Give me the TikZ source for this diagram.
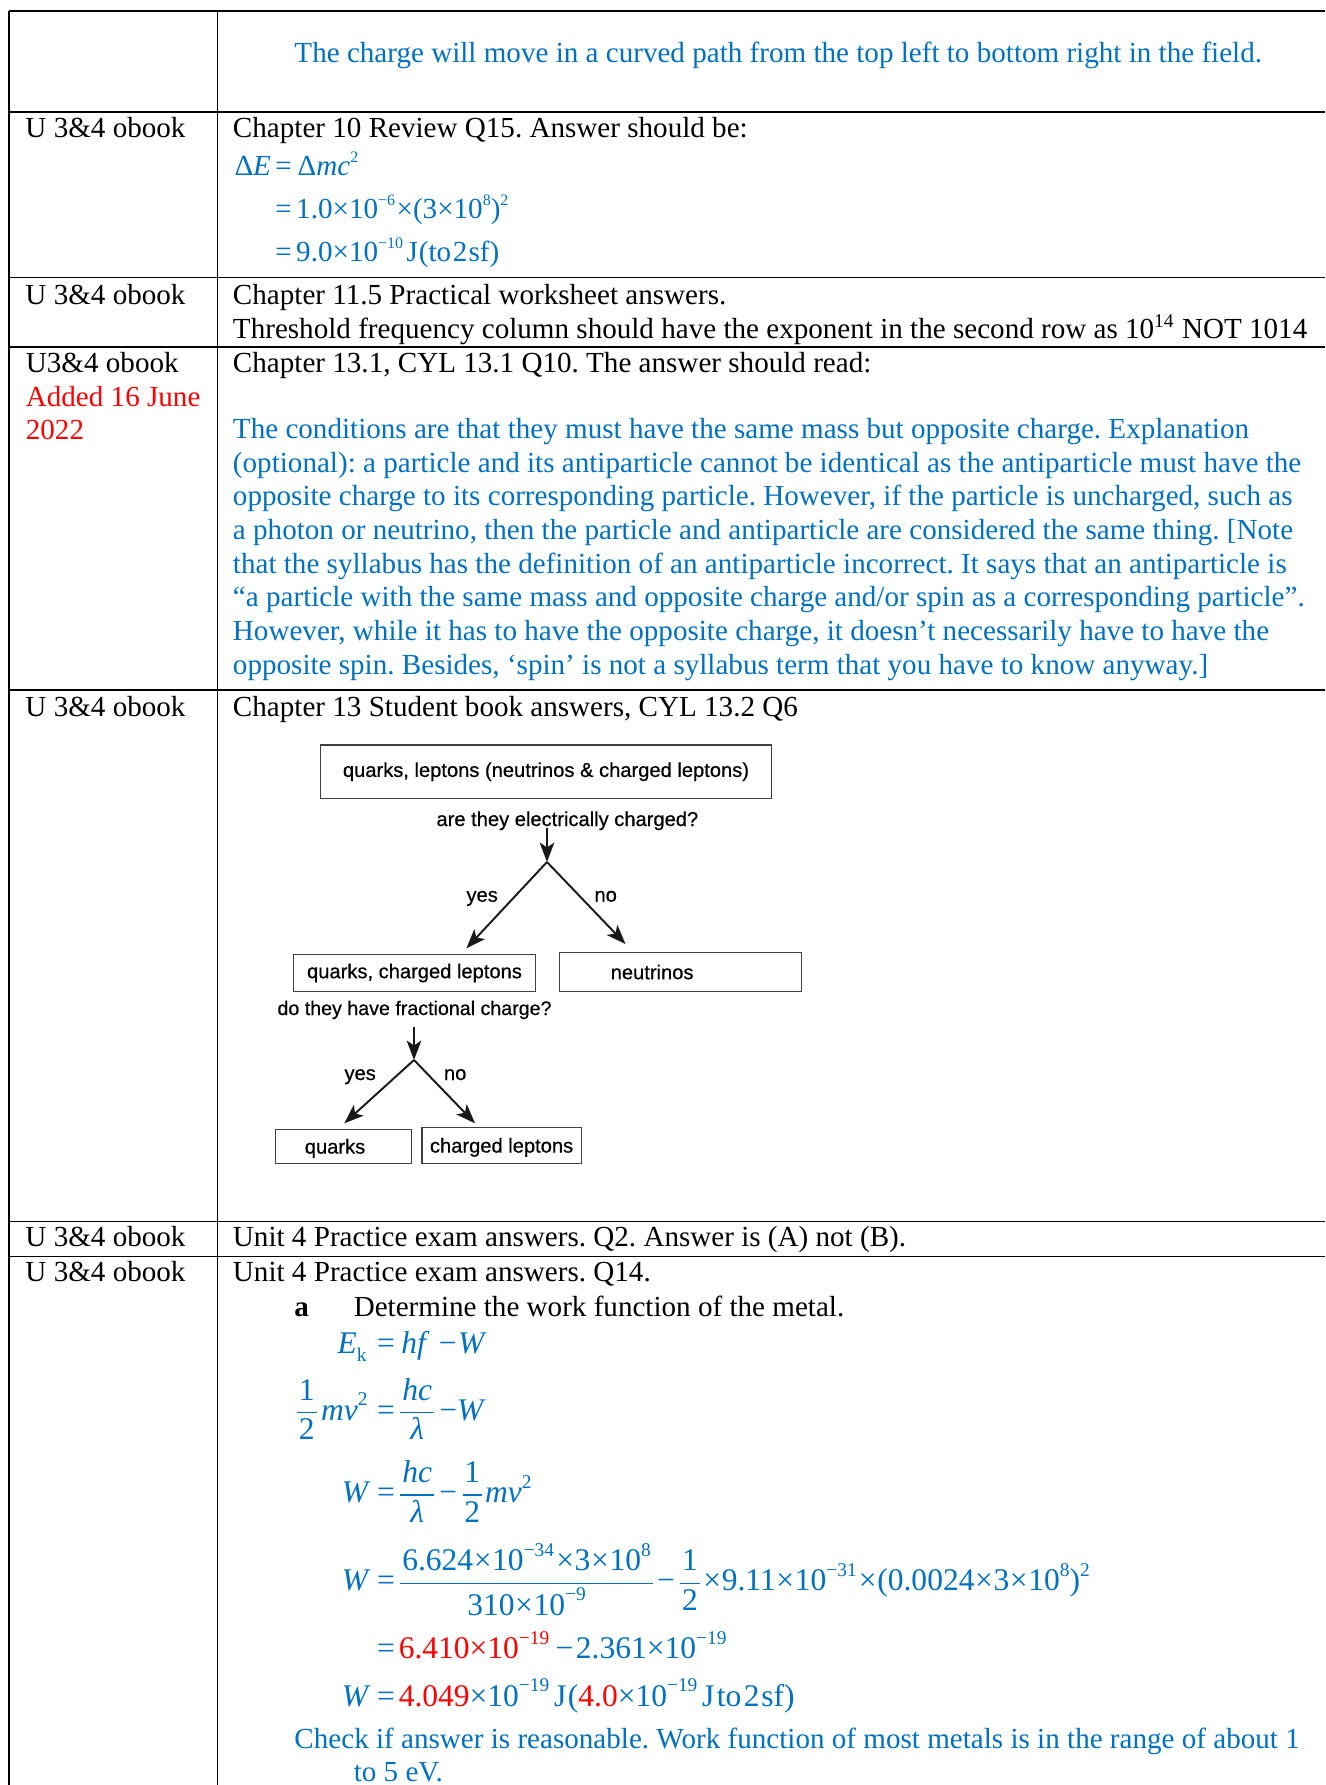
\documentclass[tikz,border=0pt]{standalone}
\usepackage{fontspec}
\setmainfont{Liberation Serif}
\newfontfamily\arialf{Liberation Sans}[FakeBold=0.5]
\usetikzlibrary{arrows.meta}
\definecolor{ansblue}{HTML}{0070C0}
\definecolor{ansred}{HTML}{FF0000}
\newcommand\sps[1]{\raisebox{0.45em}{\fontsize{6.6}{8}\selectfont #1}}
\newcommand\spb[1]{\raisebox{0.45em}{\fontsize{8}{9}\selectfont #1}}
\newcommand\sbs[1]{\raisebox{-0.25em}{\fontsize{8}{9}\selectfont #1}}
\newcommand\mfr[2]{$\displaystyle{\hbox{\hspace{0.06em}#1\hspace{0.06em}}\above 0.55pt\hbox{\hspace{0.06em}#2\hspace{0.06em}}}$}
\newcommand\tx{\hspace{0.02em}×\hspace{0.02em}}
\begin{document}
\frenchspacing
\begin{tikzpicture}[x=0.4124pt,y=-0.4124pt,
  txt/.style={inner sep=0pt, anchor=base west, font=\fontsize{12}{13.9}\selectfont},
  btxt/.style={txt, text=ansblue},
  rtxt/.style={txt, text=ansred},
  eqL/.style={inner sep=0pt, anchor=base east, text=ansblue, font=\fontsize{12}{13.9}\selectfont},
  beq/.style={inner sep=0pt, anchor=base west, text=ansblue, font=\fontsize{13}{15}\selectfont},
  beqL/.style={inner sep=0pt, anchor=base east, text=ansblue, font=\fontsize{13}{15}\selectfont},
  topline/.style={line width=0.95pt},
  hline/.style={line width=0.7pt},
  vline/.style={line width=0.55pt},
  dbox/.style={draw=black!75, line width=0.6pt, inner ysep=0pt, font=\arialf\fontsize{8.3}{10}\selectfont, text=black},
  dlab/.style={inner sep=0pt, anchor=base west, font=\arialf\fontsize{8.3}{10}\selectfont, text=black},
  arr/.style={draw=black!90, line width=0.8pt, -{Stealth[length=8pt,width=6pt,inset=2pt]}}]
\useasboundingbox (0,0) rectangle (1325,1785);
\fill[white] (0,0) rectangle (1325,1785);
% table rules
\draw[topline] (9,11) -- (1325,11);
\foreach \yy in {112,277.5,347,690,1221.5,1256.5} \draw[hline] (9,\yy) -- (1325,\yy);
\draw[vline] (9,11) -- (9,1785);
\draw[vline] (217.5,11) -- (217.5,1785);

% row 1
\node[btxt] (r1) at (294,62.7) {The charge will move in a curved path from the top left to bottom right in the field.};

% row 2
\node[txt] (l2) at (25,137.7) {U 3\&4 obook};
\node[txt] (c2) at (232.5,137.7) {Chapter 10 Review Q15. Answer should be:};
\node[eqL] (e1l) at (271.5,176) {Δ\textit{E}};
\node[btxt] (e1r) at (275,176) {=\hspace{0.2em}Δ\textit{mc}\sps{2}};
\node[btxt] (e2r) at (275,218.3) {=\hspace{0.15em}1.0×10\sps{−6}\hspace{0.05em}×(3×10\sps{8})\sps{2}};
\node[btxt] (e3r) at (275,261.7) {=\hspace{0.15em}9.0×10\sps{−10}\hspace{0.12em}J\hspace{0.03em}(to\hspace{0.06em}2\hspace{0.04em}sf)};

% row 3
\node[txt] (l3) at (25,305) {U 3\&4 obook};
\node[txt] (c3a) at (232.5,305) {Chapter 11.5 Practical worksheet answers.};
\node[txt] (c3b) at (232.5,338.3) {Threshold frequency column should have the exponent in the second row as 10\textsuperscript{14} NOT 1014};

% row 4
\node[txt] (l4a) at (25.4,372.7) {U3\&4 obook};
\node[rtxt] (l4b) at (25.4,406.7) {Added 16 June};
\node[rtxt] (l4c) at (25.4,440) {2022};
\node[txt] (c4) at (232.5,372.7) {Chapter 13.1, CYL 13.1 Q10. The answer should read:};
\node[btxt] (p1) at (232.5,438.3) {The conditions are that they must have the same mass but opposite charge. Explanation};
\node[btxt] (p2) at (232.5,472.0) {(optional): a particle and its antiparticle cannot be identical as the antiparticle must have the};
\node[btxt] (p3) at (232.5,505.7) {opposite charge to its corresponding particle. However, if the particle is uncharged, such as};
\node[btxt] (p4) at (232.5,539.4) {a photon or neutrino, then the particle and antiparticle are considered the same thing. [Note};
\node[btxt] (p5) at (232.5,573.1) {that the syllabus has the definition of an antiparticle incorrect. It says that an antiparticle is};
\node[btxt] (p6) at (232.5,606.8) {“a particle with the same mass and opposite charge and/or spin as a corresponding particle”.};
\node[btxt] (p7) at (232.5,640.5) {However, while it has to have the opposite charge, it doesn’t necessarily have to have the};
\node[btxt] (p8) at (232.5,674.2) {opposite spin. Besides, ‘spin’ is not a syllabus term that you have to know anyway.]};

% row 5
\node[txt] (l5) at (25,716) {U 3\&4 obook};
\node[txt] (c5) at (232.5,716) {Chapter 13 Student book answers, CYL 13.2 Q6};

% diagram
\node[dbox, minimum width=186.1pt, minimum height=22pt] (top) at (546,771.7) {quarks, leptons (neutrinos \& charged leptons)};
\node[dlab] (q1) at (436,826) {are they electrically charged?};
\node[dlab] (y1) at (466,901.7) {yes};
\node[dlab] (n1) at (594,901.7) {no};
\node[dbox, minimum width=99.9pt, minimum height=15.4pt] (qcl) at (414.5,973) {quarks, charged leptons};
\node[dbox, minimum height=16.2pt, inner xsep=21.2pt, text width=57.4pt, align=left] (neu) at (680.3,972) {neutrinos};
\node[dlab, font=\arialf\fontsize{8.1}{10}\selectfont] (q2) at (277,1015) {do they have fractional charge?};
\node[dlab] (y2) at (344,1080) {yes};
\node[dlab] (n2) at (443.5,1080) {no};
\node[dbox, minimum height=14pt, text height=6.5pt, text depth=0.5pt, inner xsep=12.2pt, text width=31.9pt, align=left] (qk) at (343.5,1146.3) {quarks};
\node[dbox, minimum width=65pt, minimum height=14.8pt, text height=6.5pt, text depth=0.5pt] (cl) at (501.6,1145.3) {charged leptons};
\coordinate (a1s) at (547,828);
\coordinate (ap1) at (547,862);
\coordinate (y1t) at (466.4,948.3);
\coordinate (n1t) at (625.5,944);
\coordinate (a2s) at (414,1027.3);
\coordinate (ap2) at (414,1060);
\coordinate (y2t) at (344.3,1123.3);
\coordinate (n2t) at (475,1123.3);
\draw[arr] (a1s) -- (ap1);
\draw[arr] (ap1) -- (y1t);
\draw[arr] (ap1) -- (n1t);
\draw[arr] (a2s) -- (ap2);
\draw[arr] (ap2) -- (y2t);
\draw[arr] (ap2) -- (n2t);

% row 6
\node[txt] (l6) at (25,1246.7) {U 3\&4 obook};
\node[txt] (c6) at (232.5,1246.7) {Unit 4 Practice exam answers. Q2. Answer is (A) not (B).};

% row 7
\node[txt] (l7) at (25,1281.7) {U 3\&4 obook};
\node[txt] (c7) at (232.5,1281.7) {Unit 4 Practice exam answers. Q14.};
\node[txt] (qa) at (294,1316.7) {\textbf{a}};
\node[txt] (qat) at (353.3,1316.7) {Determine the work function of the metal.};
\node[beqL] (f1l) at (367,1353.3) {\textit{E}\sbs{k}};
\node[beq] (f1r) at (376.7,1353.3) {=\hspace{0.2em}\textit{hf}\hspace{0.3em}−\hspace{0.05em}\textit{W}};
\node[beqL] (f2l) at (368,1420) {\mfr{1}{2}\hspace{0.05em}\textit{mv}\spb{2}};
\node[beq] (f2r) at (376.7,1420) {=\hspace{0.08em}\mfr{\textit{hc}}{\textit{λ}}\hspace{0.08em}−\textit{W}};
\node[beqL] (f3l) at (371,1502.3) {\textit{W}};
\node[beq] (f3r) at (376.7,1502.3) {=\hspace{0.08em}\mfr{\textit{hc}}{\textit{λ}}\hspace{0.08em}−\hspace{0.08em}\mfr{1}{2}\textit{mv}\spb{2}};
\node[beqL] (f4l) at (371,1590.6) {\textit{W}};
\node[beq] (f4r) at (376.7,1590.6) {=\hspace{0.08em}\mfr{6.624\tx 10\spb{−34}\hspace{0.05em}\tx 3\tx 10\spb{8}}{310\tx 10\spb{−9}}\hspace{0.05em}−\hspace{0.08em}\mfr{1}{2}\tx 9.11\tx 10\spb{−31}\hspace{0.05em}\tx(0.0024\tx 3\tx 10\spb{8})\spb{2}};
\node[beq] (f5r) at (376.7,1658.3) {=\hspace{0.12em}{\color{ansred}6.410×10\spb{−19}}\hspace{0.2em}−\hspace{0.08em}2.361×10\spb{−19}};
\node[beqL] (f6l) at (371,1706) {\textit{W}};
\node[beq] (f6r) at (376.7,1706) {=\hspace{0.12em}{\color{ansred}4.049}×10\spb{−19}\hspace{0.15em}J\hspace{0.05em}({\color{ansred}4.0}×10\spb{−19}\hspace{0.15em}J\hspace{0.08em}to\hspace{0.08em}2\hspace{0.05em}sf)};
\node[btxt] (ck1) at (294,1748.3) {Check if answer is reasonable. Work function of most metals is in the range of about 1};
\node[btxt] (ck2) at (353.3,1781.7) {to 5 eV.};
\end{tikzpicture}
\end{document}
